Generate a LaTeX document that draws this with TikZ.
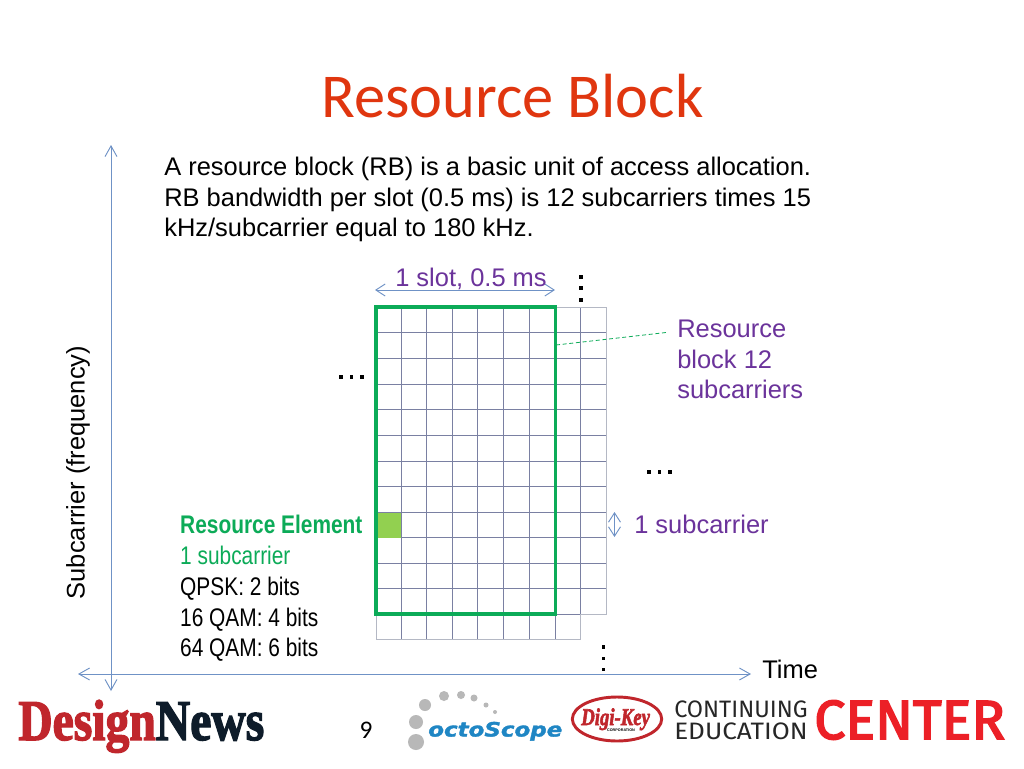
\documentclass[tikz,border=0pt]{standalone}
\usepackage{fontspec}
\usepackage{graphicx}
\setmainfont{Liberation Sans}
\newfontfamily\titlefont{Carlito}
\newfontfamily\dnfont[FakeBold=2.5]{Liberation Serif Bold}
\newfontfamily\logofont{Fira Sans}
\newfontfamily\cenfont[FakeBold=3]{Fira Sans}
\newfontfamily\octofont[FakeBold=1.5]{DejaVu Sans Bold Oblique}
\usetikzlibrary{arrows.meta,shapes.geometric}
\definecolor{titlered}{HTML}{E0360F}
\definecolor{purp}{HTML}{6B339B}
\definecolor{rbgreen}{HTML}{0CAB58}
\definecolor{regreen}{HTML}{92D050}
\definecolor{axisblue}{HTML}{6F92C6}
\definecolor{gridin}{HTML}{7A80A2}
\definecolor{gridout}{HTML}{B4B8C4}
\definecolor{dnred}{HTML}{C0262C}
\definecolor{dndark}{HTML}{0E1C2A}
\definecolor{octoblue}{HTML}{1F86C4}
\definecolor{dotgrey}{HTML}{B8B8B8}
\definecolor{ccred}{HTML}{EC2027}
\definecolor{ccdark}{HTML}{262626}
\tikzset{
  x=0.75pt,y=-0.75pt,
  body/.style={inner sep=0pt,anchor=base west,font=\fontsize{19.1}{19.1}\selectfont},
  purple text/.style={body,text=purp},
  narrow/.style={inner sep=0pt,anchor=base west,font=\fontsize{19.1}{19.1}\selectfont,xscale=0.82},
  axisline/.style={axisblue,line width=0.7pt,{Straight Barb[length=8pt,width=9pt]}-{Straight Barb[length=8pt,width=9pt]}},
  gridlinein/.style={gridin,line width=0.5pt},
  gridlineout/.style={gridout,line width=0.7pt},
  vdot/.style={fill=black,minimum size=2.3pt,inner sep=0pt,draw=none},
  logo/.style={inner sep=0pt,anchor=base west},
  gdot/.style={circle,fill=dotgrey,draw=none,inner sep=0pt},
}
\begin{document}
\begin{tikzpicture}
\useasboundingbox (0,0) rectangle (1024,768);
\fill[white] (0,0) rectangle (1024,768);
% title
\node (title) at (512.5,96) [text=titlered,inner sep=0pt,font=\titlefont\fontsize{46.8}{46.8}\selectfont] {Resource Block};
% intro
\node (l1) at (164,175) [body] {A resource block (RB) is a basic unit of access allocation.};
\node (l2) at (164,206) [body] {RB bandwidth per slot (0.5 ms) is 12 subcarriers times 15};
\node (l3) at (164,236) [body] {kHz/subcarrier equal to 180 kHz.};
% axes
\coordinate (ytop) at (111,145);
\coordinate (ybot) at (111,691);
\coordinate (xl) at (78,674);
\coordinate (xr) at (751,674);
\draw[axisline] (ytop) -- (ybot);
\draw[axisline] (xl) -- (xr);
\node (ylab) at (78,472.5) [rotate=90,inner sep=0pt,font=\fontsize{19.1}{19.1}\selectfont] {Subcarrier (frequency)};
\node (time) at (762,678) [body] {Time};
% grid: inner darker lines
\foreach \x in {401,426.5,452,477.5,503,529}
  \draw[gridlinein] (\x,307) -- (\x,639.5);
\draw[gridlinein] (555,307) -- (555,639.5);
\draw[gridlinein] (580.5,307) -- (580.5,614);
\foreach \y in {332.5,358,384,409.5,435,461,486.5,512,537.5,563,588}
  \draw[gridlinein] (376,\y) -- (606,\y);
\draw[gridlinein] (376,614) -- (580.5,614);
% grid: outer lighter lines
\draw[gridlineout] (555,307) -- (606,307) -- (606,614) -- (580.5,614) -- (580.5,639.5) -- (376,639.5) -- (376,614);
% resource element
\fill[regreen] (377,512.5) rectangle (401,537.5);
% resource block
\node (rb) at (465.5,460.5) [draw=rbgreen,line width=2.6pt,minimum width=134.6pt,minimum height=230.2pt,inner sep=0pt] {};
% slot
\coordinate (sl) at (375,290);
\coordinate (sr) at (555,290);
\draw[axisline,{Straight Barb[length=7pt,width=9pt]}-{Straight Barb[length=7pt,width=9pt]}] (sl) -- (sr);
\node (slot) at (395,286) [purple text] {1 slot, 0.5 ms};
% vertical dots
\foreach \n/\x/\y in {a/581/277,b/581/288,c/581/300,d/603.5/647,e/603.5/658.5,f/603.5/669.5}
  \node[vdot] (dot\n) at (\x,\y) {};
% horizontal dots
\foreach \n/\x/\y in {a/341/377,b/351.5/377,c/362/377,d/649/472,e/659.5/472,f/670/472}
  \node[vdot] (hdot\n) at (\x,\y) {};
% RB label
\coordinate (rbcall) at (556,345);
\coordinate (rbcallend) at (666,332.5);
\draw[rbgreen,line width=0.6pt,densely dashed] (rbcall) -- (rbcallend);
\node (r1) at (677,337) [purple text] {Resource};
\node (r2) at (677,368) [purple text] {block 12};
\node (r3) at (677,398) [purple text] {subcarriers};
% subcarrier
\coordinate (su) at (614.5,512);
\coordinate (sd) at (614.5,537);
\draw[axisline,{Straight Barb[length=7pt,width=9pt]}-{Straight Barb[length=7pt,width=9pt]}] (su) -- (sd);
\node (sub) at (634,533) [purple text] {1 subcarrier};
% RE text
\node (e1) at (180,533) [narrow,text=rbgreen,font=\bfseries\fontsize{19.1}{19.1}\selectfont] {Resource Element};
\node (e2) at (180,564) [narrow,text=rbgreen] {1 subcarrier};
\node (e3) at (180,595) [narrow] {QPSK: 2 bits};
\node (e4) at (180,626) [narrow] {16 QAM: 4 bits};
\node (e5) at (180,656) [narrow] {64 QAM: 6 bits};
% page number
\node (pg) at (366,730) [inner sep=0pt,font=\titlefont\fontsize{19}{19}\selectfont] {9};
% logos
\node (dn) at (18,740) [logo] {\resizebox{184.5pt}{30pt}{\dnfont\textcolor{dnred}{Design}\textcolor{dndark}{News}}};
\foreach \n/\x/\y/\d in {a/416/742/16,b/416/722/14,c/425/705/12,d/444/696/10,e/461/695/8,f/474/698/7,g/486/705/5,h/495/712/4}
  \node[gdot,minimum size=\d*0.75pt] (oc\n) at (\x,\y) {};
\node (octo) at (428,736.5) [logo,text=octoblue] {\resizebox{100.5pt}{11pt}{\octofont octoScope}};
\node (dkring) at (617,719) [ellipse,draw=dnred,line width=2.2pt,fill=white,minimum width=67pt,minimum height=33pt,inner sep=0pt] {};
\node (dk) at (581,725) [logo,text=dnred] {\raisebox{0pt}[\height][0pt]{\resizebox{51.5pt}{12.5pt}{\dnfont\itshape Digi-Key}}};
\node (dkc) at (621,730.5) [text=black,inner sep=0pt,font=\bfseries\fontsize{2.8}{2.8}\selectfont] {CORPORATION};
\node (cc1) at (674,717) [logo,text=ccdark] {\resizebox{100pt}{12.5pt}{\logofont CONTINUING}};
\node (cc2) at (674,739) [logo,text=ccdark] {\resizebox{100pt}{12.5pt}{\logofont EDUCATION}};
\node (cen) at (814,739) [logo,text=ccred] {\resizebox{143pt}{29pt}{\cenfont CENTER}};
\end{tikzpicture}
\end{document}
